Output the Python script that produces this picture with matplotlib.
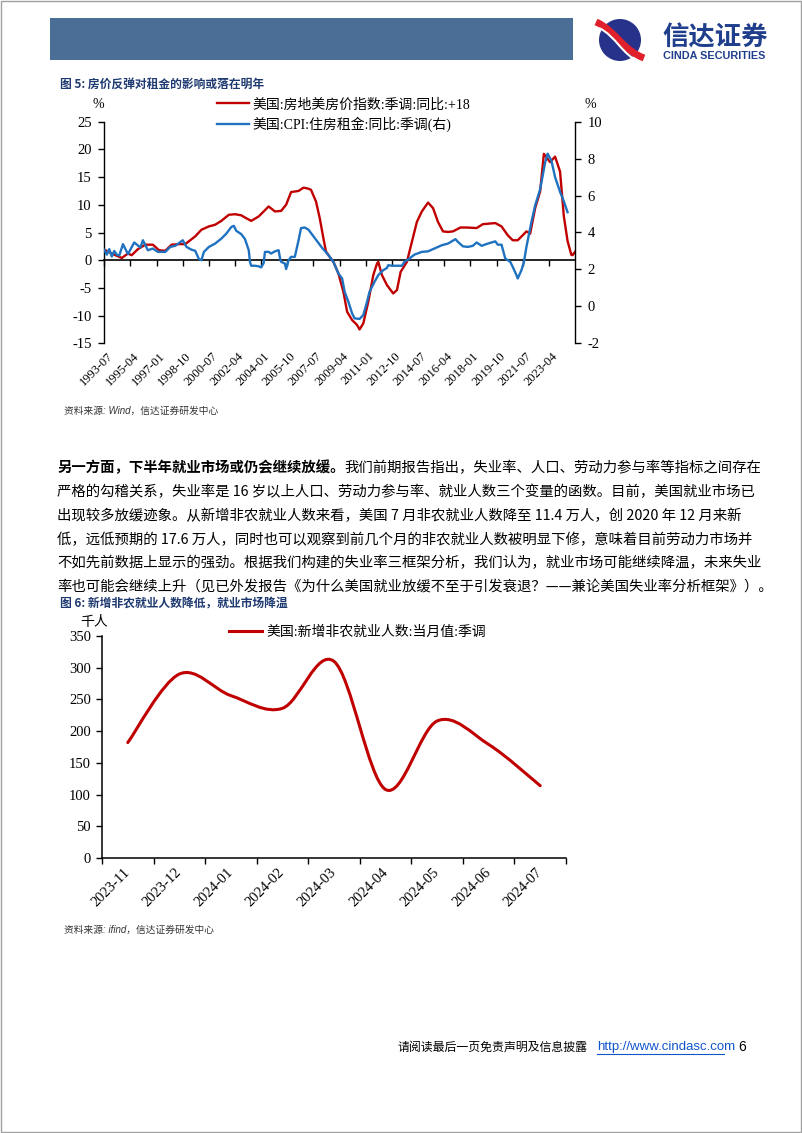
import matplotlib
matplotlib.use("Agg")
import matplotlib.pyplot as plt
import numpy as np
from matplotlib.path import Path
from matplotlib.patches import PathPatch, Rectangle, Circle

W, H = 802, 1133
CN = ['Noto Sans CJK SC', 'DejaVu Sans']
SER = ['Liberation Serif', 'Noto Sans CJK SC']
plt.rcParams['font.family'] = SER
plt.rcParams['axes.unicode_minus'] = False

# ---------------- data: figure 5 ----------------
red_dates = ["1993-07", "1994-01", "1994-09", "1995-02", "1995-05", "1995-10", "1996-04", "1996-10",
             "1997-03", "1997-08", "1998-01", "1998-07", "1998-12", "1999-08", "2000-01", "2000-07",
             "2000-12", "2001-05", "2001-11", "2002-04", "2002-09", "2002-12", "2003-05", "2003-11",
             "2004-07", "2004-12", "2005-05", "2005-09", "2006-01", "2006-07", "2006-11", "2007-03",
             "2007-05", "2007-09", "2007-12", "2008-03", "2008-05", "2008-08", "2008-11", "2009-03",
             "2009-07", "2009-10", "2010-02", "2010-06", "2010-08", "2010-11", "2011-03", "2011-07",
             "2011-10", "2011-11", "2012-02", "2012-06", "2012-11", "2013-02", "2013-05", "2013-10",
             "2014-02", "2014-06", "2014-10", "2015-03", "2015-07", "2015-11", "2016-03", "2016-07",
             "2016-11", "2017-05", "2017-10", "2018-06", "2018-11", "2019-09", "2020-02", "2020-07",
             "2020-11", "2021-03", "2021-07", "2021-10", "2022-01", "2022-05", "2022-09", "2022-12",
             "2023-02", "2023-05", "2023-09", "2024-01", "2024-04", "2024-07", "2024-10", "2024-11",
             "2025-01"]
red_vals = [1.9, 1.2, 0.4, 1.2, 0.9, 2.0, 2.8, 2.8,
            1.8, 1.7, 2.8, 2.9, 2.9, 4.3, 5.5, 6.1,
            6.4, 7.1, 8.2, 8.3, 8.1, 7.7, 7.1, 7.9,
            9.7, 8.8, 8.9, 10.0, 12.3, 12.5, 13.1, 12.9,
            12.7, 10.6, 7.6, 3.9, 1.6, 0.6, -0.3, -2.4,
            -5.7, -9.3, -10.8, -11.7, -12.5, -11.4, -7.5, -2.7,
            -0.6, -0.3, -2.7, -4.5, -6.0, -5.4, -2.1, -0.3,
            3.3, 6.9, 8.8, 10.4, 9.4, 6.9, 5.2, 5.1,
            5.2, 5.9, 5.9, 5.8, 6.5, 6.7, 6.1, 4.5,
            3.6, 3.6, 4.5, 5.2, 4.8, 9.4, 12.4, 19.2,
            18.6, 17.7, 18.7, 16.0, 8.0, 3.5, 1.0, 0.9,
            1.5]

blue_dates = ["1993-07", "1993-09", "1993-11", "1994-01", "1994-03", "1994-05", "1994-07", "1994-10",
              "1995-02", "1995-07", "1995-12", "1996-02", "1996-06", "1996-10", "1997-02", "1997-08",
              "1997-12", "1998-04", "1998-10", "1999-01", "1999-05", "1999-08", "1999-11", "2000-01",
              "2000-03", "2000-07", "2000-12", "2001-05", "2001-09", "2002-01", "2002-03", "2002-05",
              "2002-09", "2002-12", "2003-03", "2003-04", "2003-05", "2003-08", "2003-11", "2004-01",
              "2004-03", "2004-04", "2004-07", "2004-09", "2004-12", "2005-03", "2005-04", "2005-05",
              "2005-08", "2005-09", "2005-11", "2006-01", "2006-04", "2006-07", "2006-09", "2006-12",
              "2007-03", "2007-06", "2007-10", "2008-02", "2008-04", "2008-07", "2008-11", "2009-03",
              "2009-06", "2009-08", "2009-11", "2010-02", "2010-04", "2010-08", "2010-11", "2011-02",
              "2011-04", "2011-08", "2011-11", "2012-03", "2012-06", "2012-07", "2012-10", "2013-04",
              "2013-06", "2013-08", "2013-12", "2014-04", "2014-10", "2015-03", "2015-09", "2016-02",
              "2016-07", "2016-10", "2017-01", "2017-03", "2017-07", "2017-11", "2018-03", "2018-06",
              "2018-10", "2019-03", "2019-09", "2019-11", "2020-02", "2020-05", "2020-09", "2020-11",
              "2021-02", "2021-03", "2021-06", "2021-08", "2021-10", "2022-02", "2022-05", "2022-09",
              "2023-01", "2023-03", "2023-06", "2023-09", "2024-01", "2024-04", "2024-07"]
blue_vals = [3.06, 2.8, 3.1, 2.7, 3.0, 2.8, 2.75, 3.37,
             2.83, 3.46, 3.19, 3.58, 3.04, 3.13, 2.95, 2.95,
             3.22, 3.28, 3.58, 3.22, 3.07, 3.01, 2.56, 2.5,
             2.95, 3.22, 3.4, 3.67, 3.94, 4.3, 4.36, 4.09,
             3.91, 3.64, 3.04, 2.4, 2.2, 2.2, 2.17, 2.11,
             2.35, 2.95, 2.95, 2.86, 2.98, 3.04, 2.65, 2.41,
             2.32, 2.02, 2.5, 2.68, 2.68, 3.58, 4.24, 4.27,
             4.15, 3.88, 3.52, 3.16, 3.01, 2.77, 2.41, 1.78,
             1.51, 0.79, 0.25, -0.38, -0.65, -0.68, -0.47, 0.25,
             0.79, 1.33, 1.69, 1.96, 2.08, 2.23, 2.2, 2.2,
             2.2, 2.41, 2.59, 2.8, 2.95, 2.98, 3.16, 3.31,
             3.4, 3.52, 3.64, 3.49, 3.25, 3.22, 3.28, 3.46,
             3.28, 3.4, 3.52, 3.34, 3.34, 2.59, 2.41, 2.14,
             1.69, 1.51, 1.96, 2.41, 3.22, 4.57, 5.47, 6.34,
             7.78, 8.27, 7.9, 7.0, 6.2, 5.7, 5.1]

x5_labels = ["1993-07", "1995-04", "1997-01", "1998-10", "2000-07", "2002-04", "2004-01", "2005-10",
             "2007-07", "2009-04", "2011-01", "2012-10", "2014-07", "2016-04", "2018-01", "2019-10",
             "2021-07", "2023-04"]

# ---------------- data: figure 6 ----------------
nfp_months = ["2023-11", "2023-12", "2024-01", "2024-02", "2024-03", "2024-04", "2024-05", "2024-06", "2024-07"]
nfp_vals = [182, 290, 256, 236, 310, 108, 216, 179, 114]


def mon(s):
    y, m = s.split('-')
    return (int(y) - 1993) * 12 + int(m) - 7


def box(l, t, r, b):
    return [l / W, 1 - b / H, (r - l) / W, (b - t) / H]


fig = plt.figure(figsize=(W / 100, H / 100), dpi=100)
page = fig.add_axes([0, 0, 1, 1])
page.set_xlim(0, W)
page.set_ylim(H, 0)
page.axis('off')

# page frame + header
page.add_patch(Rectangle((0.5, 0.5), W - 1.5, H - 1.5, fill=False, ec='#a0a0a0', lw=1))
page.add_patch(Rectangle((50, 18), 523, 42, color='#4b6e97', lw=0))
page.add_patch(Circle((620, 40), 21, color='#27338a', lw=0))
swoosh = Path([(596, 22), (615, 30), (622, 50), (644, 58)], [Path.MOVETO, Path.CURVE4, Path.CURVE4, Path.CURVE4])
page.add_patch(PathPatch(swoosh, fc='none', ec='#e0202a', lw=5))
swoosh2 = Path([(599, 28), (616, 36), (622, 55), (640, 62)], [Path.MOVETO, Path.CURVE4, Path.CURVE4, Path.CURVE4])
page.add_patch(PathPatch(swoosh2, fc='none', ec='white', lw=1.5))
page.text(662, 38, "信达证券", fontsize=19, fontweight='bold', color='#1f3f8c', family=CN, va='center', ha='left')
page.text(663, 56, "CINDA SECURITIES", fontsize=7.8, fontweight='bold', color='#1f3f8c',
          family=['Liberation Sans'], va='center', ha='left')

TITLE_C = '#1f3a70'
page.text(60, 84, "图 5: 房价反弹对租金的影响或落在明年", fontsize=8.5, fontweight='bold', color=TITLE_C,
          family=CN, va='center')

# ---------------- figure 5 ----------------
ax = fig.add_axes(box(104.3, 121.7, 575, 343.3))
l1, = ax.plot([mon(d) for d in red_dates], red_vals, color='#c00000', lw=1.7,
              label="美国:房地美房价指数:季调:同比:+18")
ax.set_xlim(0, 378)
ax.set_ylim(-15, 25)
ax.set_yticks(range(-15, 26, 5))
ax.spines['top'].set_visible(False)
ax.spines['bottom'].set_position(('data', 0))
ax.spines['bottom'].set_linewidth(1.2)
ax.spines['left'].set_linewidth(1.0)
ax.spines['right'].set_visible(False)
ax.set_xticks([mon(d) for d in x5_labels])
ax.tick_params(axis='x', direction='out', length=4, width=1, labelbottom=False)
ax.tick_params(axis='y', direction='out', length=4, width=1, labelsize=10.5, pad=5)
for lab in x5_labels:
    ax.text(mon(lab) + 2, -0.03, lab, transform=ax.get_xaxis_transform(), rotation=45,
            rotation_mode='anchor', ha='right', va='top', fontsize=9)

ax2 = ax.twinx()
l2, = ax2.plot([mon(d) for d in blue_dates], blue_vals, color='#1f72c0', lw=1.7,
               label="美国:CPI:住房租金:同比:季调(右)")
ax2.set_ylim(-2, 10)
ax2.set_yticks(range(-2, 11, 2))
for s in ['top', 'bottom', 'left']:
    ax2.spines[s].set_visible(False)
ax2.spines['right'].set_linewidth(1.0)
ax2.tick_params(axis='y', direction='out', length=4, width=1, labelsize=10.5, pad=5)

fig.legend(handles=[l1, l2], loc='upper left', bbox_to_anchor=(210 / W, 1 - 91 / H), frameon=False,
           fontsize=10, handlelength=2.3, handletextpad=0.25, labelspacing=0.35, borderpad=0)
page.text(98, 104, "%", fontsize=10, ha='center', va='center')
page.text(590, 104, "%", fontsize=10, ha='center', va='center')
page.text(64, 411, "资料来源: Wind，信达证券研发中心", fontsize=7, style='italic', color='#333333',
          family=['Liberation Sans', 'Noto Sans CJK SC'], va='center')

# ---------------- paragraph ----------------
FS = 10.35
b1 = page.text(57, 468, "另一方面，下半年就业市场或仍会继续放缓。", fontsize=FS, fontweight='bold',
               family=CN, va='center')
page.annotate("我们前期报告指出，失业率、人口、劳动力参与率等指标之间存在", xy=(1, 0.5), xycoords=b1,
              fontsize=FS, family=CN, va='center', ha='left')
para = ["严格的勾稽关系，失业率是 16 岁以上人口、劳动力参与率、就业人数三个变量的函数。目前，美国就业市场已",
        "出现较多放缓迹象。从新增非农就业人数来看，美国 7 月非农就业人数降至 11.4 万人，创 2020 年 12 月来新",
        "低，远低预期的 17.6 万人，同时也可以观察到前几个月的非农就业人数被明显下修，意味着目前劳动力市场并",
        "不如先前数据上显示的强劲。根据我们构建的失业率三框架分析，我们认为，就业市场可能继续降温，未来失业",
        "率也可能会继续上升（见已外发报告《为什么美国就业放缓不至于引发衰退？——兼论美国失业率分析框架》）。"]
for i, line in enumerate(para):
    page.text(57, 492 + i * 23.8, line, fontsize=FS, family=CN, va='center')

page.text(60, 603, "图 6: 新增非农就业人数降低，就业市场降温", fontsize=8.5, fontweight='bold', color=TITLE_C,
          family=CN, va='center')

# ---------------- figure 6 ----------------
ax6 = fig.add_axes(box(102, 636, 566, 858))
xs = np.arange(len(nfp_vals)) + 0.5
P = np.column_stack([xs, nfp_vals]).astype(float)
verts = [P[0]]
codes = [Path.MOVETO]
n = len(P)
for i in range(n - 1):
    p0 = P[max(i - 1, 0)]
    p1 = P[i]
    p2 = P[i + 1]
    p3 = P[min(i + 2, n - 1)]
    verts += [p1 + (p2 - p0) / 6, p2 - (p3 - p1) / 6, p2]
    codes += [Path.CURVE4] * 3
line6 = PathPatch(Path(verts, codes), fc='none', ec='#c00000', lw=2.2, capstyle='round')
ax6.add_patch(line6)
ax6.set_xlim(0, len(nfp_vals))
ax6.set_ylim(0, 350)
ax6.set_yticks(range(0, 351, 50))
ax6.set_xticks(range(len(nfp_vals) + 1))
ax6.set_xticklabels([])
ax6.set_xticks(xs, minor=True)
ax6.set_xticklabels(nfp_months, minor=True, rotation=45, rotation_mode='anchor', ha='right', va='center',
                    fontsize=10.5)
ax6.tick_params(axis='x', which='minor', length=0, pad=9)
ax6.tick_params(axis='x', which='major', direction='out', length=4, width=1)
ax6.tick_params(axis='y', direction='out', length=4, width=1, labelsize=10.5, pad=4)
for s in ['top', 'right']:
    ax6.spines[s].set_visible(False)
for s in ['left', 'bottom']:
    ax6.spines[s].set_linewidth(1.1)

leg_h = plt.Line2D([], [], color='#c00000', lw=2.2)
fig.legend(handles=[leg_h], labels=["美国:新增非农就业人数:当月值:季调"], loc='center left',
           bbox_to_anchor=(222 / W, 1 - 632 / H), frameon=False, fontsize=10, handlelength=2.4,
           handletextpad=0.3, borderpad=0)
page.text(94, 622, "千人", fontsize=10, family=CN, ha='center', va='center')
page.text(64, 930, "资料来源: ifind，信达证券研发中心", fontsize=7, style='italic', color='#333333',
          family=['Liberation Sans', 'Noto Sans CJK SC'], va='center')

# ---------------- footer ----------------
page.text(398, 1047, "请阅读最后一页免责声明及信息披露", fontsize=8.6, family=CN, va='center')
page.text(597, 1047, "http://www.cindasc.com", fontsize=9.5, color='#1155cc',
          family=['Liberation Sans'], va='center')
page.plot([597, 724], [1054, 1054], color='#1155cc', lw=0.8)
page.text(738, 1047, "6", fontsize=10, family=['Liberation Sans'], va='center')

fig.savefig("out.png", dpi=100)
